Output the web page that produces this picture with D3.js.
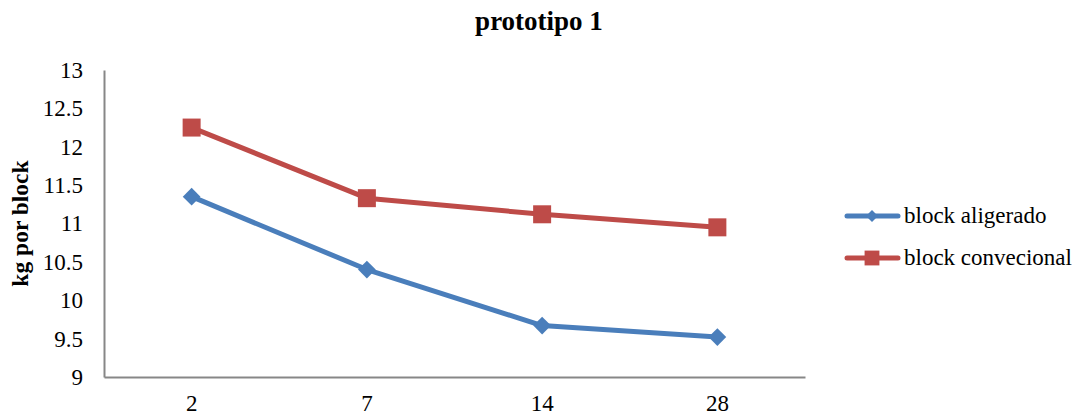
<!DOCTYPE html>
<html>
<head>
<meta charset="utf-8">
<script src="https://cdn.jsdelivr.net/npm/d3@7"></script>
<style>
  html, body { margin: 0; padding: 0; background: #fff; }
  svg { display: block; }
</style>
</head>
<body>
<svg id="chart" width="1085" height="420"></svg>
<script>
// Days of curing and weight per block for each prototype type
const categories = ["2", "7", "14", "28"];
const aligerado = [11.35, 10.4, 9.67, 9.52];
const convecional = [12.25, 11.33, 11.12, 10.95];
const yTicks = [9, 9.5, 10, 10.5, 11, 11.5, 12, 12.5, 13];
const seriesNames = ["block aligerado", "block convecional"];
const seriesColors = ["#4a7ebb", "#be4b48"];

const FONT = "'Liberation Serif', 'Times New Roman', Times, serif";

const svg = d3.select("#chart");
const margin = { left: 104, right: 280, top: 70, bottom: 43 };
const W = 1085, H = 420;

const x = d3.scaleBand().domain(categories).range([margin.left, W - margin.right]);
const y = d3.scaleLinear().domain([9, 13]).range([H - margin.bottom, margin.top]);

// Title
svg.append("text")
  .attr("x", 539).attr("y", 30)
  .attr("text-anchor", "middle")
  .attr("font-family", FONT)
  .attr("font-size", 27).attr("font-weight", "bold")
  .text("prototipo 1");

// Y axis title
svg.append("text")
  .attr("transform", `translate(28,${(margin.top + H - margin.bottom) / 2}) rotate(-90)`)
  .attr("text-anchor", "middle")
  .attr("font-family", FONT)
  .attr("font-size", 23.5).attr("font-weight", "bold")
  .text("kg por block");

// Axes
const yAxis = d3.axisLeft(y).tickValues(yTicks).tickSize(0).tickPadding(21)
  .tickFormat(d3.format("~g"));
const gy = svg.append("g").attr("transform", `translate(${margin.left},0)`).call(yAxis)
  .attr("font-family", FONT).attr("font-size", 23);
gy.select(".domain").attr("stroke", "#878787").attr("stroke-width", 2);
gy.selectAll("text").attr("fill", "#000");

const xAxis = d3.axisBottom(x).tickSize(0).tickPadding(18);
const gx = svg.append("g").attr("transform", `translate(0,${H - margin.bottom})`).call(xAxis)
  .attr("font-family", FONT).attr("font-size", 23);
gx.select(".domain").attr("stroke", "#878787").attr("stroke-width", 2);
gx.selectAll("text").attr("fill", "#000");

const cx = d => x(d) + x.bandwidth() / 2;
const line = d3.line().x(d => cx(d.cat)).y(d => y(d.v));

const series = [aligerado, convecional].map((vals, i) => ({
  name: seriesNames[i], color: seriesColors[i],
  pts: vals.map((v, j) => ({ cat: categories[j], v }))
}));

series.forEach((s, i) => {
  svg.append("path").datum(s.pts)
    .attr("fill", "none").attr("stroke", s.color)
    .attr("stroke-width", 5).attr("stroke-linejoin", "round")
    .attr("d", line);
  const sym = i === 0
    ? d3.symbol().type(d3.symbolDiamond2).size(200)
    : d3.symbol().type(d3.symbolSquare).size(324);
  svg.append("g").selectAll("path").data(s.pts).join("path")
    .attr("transform", d => `translate(${cx(d.cat)},${y(d.v)})`)
    .attr("d", sym())
    .attr("fill", s.color);
});

// Legend
const legend = svg.append("g");
series.forEach((s, i) => {
  const ly = 216 + i * 42;
  const g = legend.append("g").attr("transform", `translate(0,${ly})`);
  g.append("line").attr("x1", 847).attr("x2", 898).attr("y1", 0).attr("y2", 0)
    .attr("stroke", s.color).attr("stroke-width", 5).attr("stroke-linecap", "round");
  const sym = i === 0
    ? d3.symbol().type(d3.symbolDiamond2).size(90)
    : d3.symbol().type(d3.symbolSquare).size(220);
  g.append("path").attr("transform", "translate(872,0)").attr("d", sym()).attr("fill", s.color);
  g.append("text").attr("x", 904).attr("y", 0).attr("dy", "0.32em")
    .attr("font-family", FONT).attr("font-size", 23).attr("fill", "#000")
    .text(s.name);
});
</script>
</body>
</html>
